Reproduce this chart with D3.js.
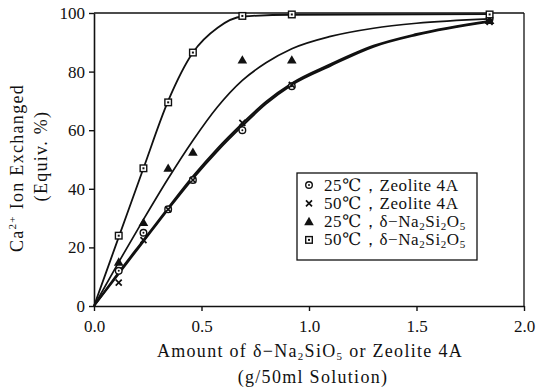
<!DOCTYPE html>
<html>
<head>
<meta charset="utf-8">
<script src="https://cdn.jsdelivr.net/npm/d3@7"></script>
<style>
  html, body { margin: 0; padding: 0; background: #fff; }
  svg { display: block; }
  svg text { font-family: "Liberation Serif", "DejaVu Serif", serif; fill: #111; }
</style>
</head>
<body>
<svg id="chart" width="541" height="391"></svg>
<script>
// Sample amounts (g / 50 ml solution)
const dose = [0.115, 0.23, 0.345, 0.46, 0.69, 0.92, 1.84];

// Measured Ca2+ exchanged (equiv. %)
const zeolite25 = [12, 25, 33, 43, 60, 75, 98];
const zeolite50 = [8, 22.5, 33, 43, 62.5, 75.5, 97];
const delta25   = [15, 28.5, 47, 52.5, 84, 84, 97.5];
const delta50   = [24, 47, 69.5, 86.5, 99, 99.5, 99.5];

// Smoothed fit curves
const fitDoseA   = [0, 0.115, 0.23, 0.345, 0.46, 0.575, 0.69, 0.8, 0.92, 1.1, 1.3, 1.5, 1.84];
const zeolite25Fit = [0, 11, 22, 33, 43.5, 53, 61.5, 69, 75.5, 82, 88.5, 92.5, 97];
const zeolite50Fit = [0, 11.5, 22.5, 33.5, 44.2, 53.8, 62.3, 69.7, 76, 82.5, 88.8, 92.8, 97.3];
const delta25Fit   = [0, 15, 29.5, 43.5, 56.5, 68, 77, 83, 87.8, 92, 94.8, 96.5, 98];
const fitDoseB   = [0, 0.115, 0.23, 0.345, 0.46, 0.575, 0.69, 0.92, 1.84];
const delta50Fit   = [0, 23.5, 47, 70, 86.5, 95, 98.8, 99.4, 99.6];

const xTicks = [0, 0.5, 1.0, 1.5, 2.0];
const yTicks = [0, 20, 40, 60, 80, 100];

const SERIF = '"Liberation Serif", "DejaVu Serif", serif';

const svg = d3.select("#chart");
const x = d3.scaleLinear().domain([0, 2]).range([94, 524]);
const y = d3.scaleLinear().domain([0, 100]).range([306, 13]);

// Axes
const xAxis = svg.append("g").attr("transform", `translate(0,${y(0)})`)
  .call(d3.axisBottom(x).tickValues(xTicks).tickFormat(d3.format(".1f"))
    .tickSize(5).tickSizeOuter(0).tickPadding(9));
const yAxis = svg.append("g").attr("transform", `translate(${x(0)},0)`)
  .call(d3.axisLeft(y).tickValues(yTicks).tickFormat(d3.format("d"))
    .tickSize(5).tickSizeOuter(0).tickPadding(4));
[xAxis, yAxis].forEach(g => {
  g.attr("font-family", SERIF).attr("font-size", 17);
  g.select(".domain").attr("stroke", "#111").attr("stroke-width", 1.6);
  g.selectAll(".tick line").attr("stroke", "#111").attr("stroke-width", 1.4);
  g.selectAll(".tick text").style("font-family", SERIF)
    .style("font-size", "17px").attr("fill", "#111");
});

// Frame: top and right edges
svg.append("line").attr("x1", x(0)).attr("x2", x(2)).attr("y1", y(100)).attr("y2", y(100))
  .attr("stroke", "#111").attr("stroke-width", 1.3);
svg.append("line").attr("x1", x(2)).attr("x2", x(2)).attr("y1", y(100)).attr("y2", y(0))
  .attr("stroke", "#111").attr("stroke-width", 1.3);

// Fit curves
const line = d3.line().x(d => x(d[0])).y(d => y(d[1])).curve(d3.curveMonotoneX);
const curves = [
  { xs: fitDoseA, ys: zeolite25Fit, w: 2.0 },
  { xs: fitDoseA, ys: zeolite50Fit, w: 2.0 },
  { xs: fitDoseA, ys: delta25Fit, w: 1.7 },
  { xs: fitDoseB, ys: delta50Fit, w: 1.8 }
];
curves.forEach(c => {
  svg.append("path").datum(c.xs.map((v, i) => [v, c.ys[i]]))
    .attr("d", line).attr("fill", "none").attr("stroke", "#111")
    .attr("stroke-width", c.w).attr("stroke-linejoin", "round");
});

// Marker shapes
function marker(g, type, cx, cy) {
  if (type === "circle") {
    g.append("circle").attr("cx", cx).attr("cy", cy).attr("r", 3.3)
      .attr("fill", "#fff").attr("stroke", "#111").attr("stroke-width", 1.4);
    g.append("circle").attr("cx", cx).attr("cy", cy).attr("r", 1).attr("fill", "#111");
  } else if (type === "cross") {
    const s = 3;
    g.append("path").attr("d", `M${cx - s},${cy - s}L${cx + s},${cy + s}M${cx - s},${cy + s}L${cx + s},${cy - s}`)
      .attr("stroke", "#111").attr("stroke-width", 1.7);
  } else if (type === "triangle") {
    g.append("path").attr("d", d3.symbol(d3.symbolTriangle, 40)())
      .attr("transform", `translate(${cx},${cy + 0.8})`).attr("fill", "#111");
  } else if (type === "square") {
    g.append("rect").attr("x", cx - 3.3).attr("y", cy - 3.3).attr("width", 6.6).attr("height", 6.6)
      .attr("fill", "#fff").attr("stroke", "#111").attr("stroke-width", 1.4);
    g.append("rect").attr("x", cx - 1).attr("y", cy - 1).attr("width", 2).attr("height", 2).attr("fill", "#111");
  }
}

const series = [
  { vals: zeolite25, type: "circle" },
  { vals: zeolite50, type: "cross" },
  { vals: delta25, type: "triangle" },
  { vals: delta50, type: "square" }
];
const pts = svg.append("g");
series.forEach(s => {
  s.vals.forEach((v, i) => marker(pts, s.type, x(dose[i]), y(v)));
});

// Legend
const lg = svg.append("g");
lg.append("rect").attr("x", 297).attr("y", 173).attr("width", 180).attr("height", 87)
  .attr("fill", "#fff").attr("stroke", "#111").attr("stroke-width", 1.3);
const legendRows = [
  { type: "circle", t: "25", mat: "zeolite" },
  { type: "cross", t: "50", mat: "zeolite" },
  { type: "triangle", t: "25", mat: "delta" },
  { type: "square", t: "50", mat: "delta" }
];
legendRows.forEach((r, i) => {
  const cy = 185 + i * 18.3;
  marker(lg, r.type, 309, cy);
  const t = lg.append("text").attr("x", 324).attr("y", cy + 5.5)
    .style("font-size", "17px").attr("letter-spacing", 0.6);
  t.append("tspan").text(r.t + "℃，");
  if (r.mat === "zeolite") {
    t.append("tspan").text("Zeolite 4A");
  } else {
    t.append("tspan").text("δ−Na");
    t.append("tspan").style("font-size", "11px").attr("dy", 3).text("2");
    t.append("tspan").attr("dy", -3).text("Si");
    t.append("tspan").style("font-size", "11px").attr("dy", 3).text("2");
    t.append("tspan").attr("dy", -3).text("O");
    t.append("tspan").style("font-size", "11px").attr("dy", 3).text("5");
  }
});

// X axis title
const xt = svg.append("text").attr("x", 310).attr("y", 357).attr("text-anchor", "middle")
  .style("font-size", "18px").attr("letter-spacing", 1.3);
xt.append("tspan").text("Amount of δ−Na");
xt.append("tspan").style("font-size", "11px").attr("dy", 3).text("2");
xt.append("tspan").attr("dy", -3).text("SiO");
xt.append("tspan").style("font-size", "11px").attr("dy", 3).text("5");
xt.append("tspan").attr("dy", -3).text(" or Zeolite 4A");
svg.append("text").attr("x", 313).attr("y", 383).attr("text-anchor", "middle")
  .style("font-size", "18px").attr("letter-spacing", 1.3).text("(g/50ml Solution)");

// Y axis title
const yt = svg.append("text").attr("transform", "translate(23,168) rotate(-90)")
  .attr("text-anchor", "middle").style("font-size", "18px").attr("letter-spacing", 1.3);
yt.append("tspan").text("Ca");
yt.append("tspan").style("font-size", "11px").attr("dy", -7).text("2+");
yt.append("tspan").attr("dy", 7).text(" Ion Exchanged");
svg.append("text").attr("transform", "translate(47,156) rotate(-90)")
  .attr("text-anchor", "middle").style("font-size", "18px").attr("letter-spacing", 1.3).text("(Equiv. %)");
</script>
</body>
</html>
